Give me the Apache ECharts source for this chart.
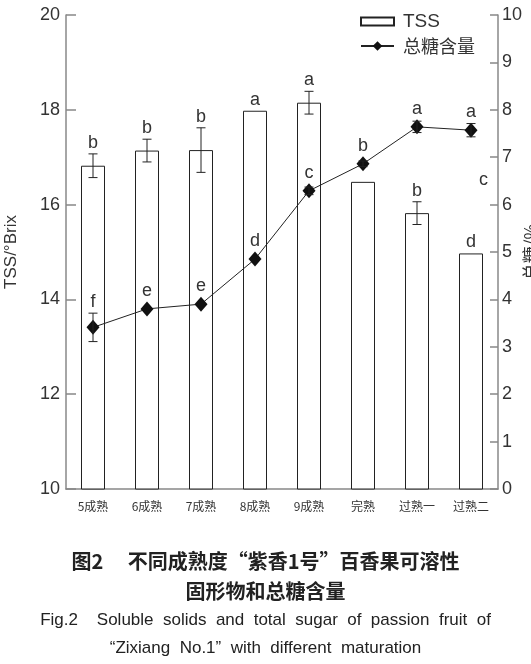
<!DOCTYPE html>
<html lang="zh">
<head>
<meta charset="UTF-8">
<title>TSS与总糖含量</title>
<script src="https://cdn.jsdelivr.net/npm/echarts@6/dist/echarts.min.js"></script>
<style>
  html, body { margin: 0; padding: 0; background: #fff; }
  #box { width: 531px; height: 664px; }
</style>
</head>
<body>
<div id="box"></div>
<script>
    // 成熟度分类
    var categories = ['5成熟', '6成熟', '7成熟', '8成熟', '9成熟', '完熟', '过熟一', '过熟二'];
    // 可溶性固形物 TSS/°Brix
    var tss = [16.82, 17.14, 17.15, 17.98, 18.15, 16.48, 15.82, 14.97];
    var tssErr = [0.25, 0.24, 0.47, 0, 0.24, 0, 0.24, 0];
    var tssLetters = ['b', 'b', 'b', 'a', 'a', '', 'b', 'd'];
    // 总糖含量 %
    var sugar = [3.41, 3.80, 3.90, 4.85, 6.29, 6.86, 7.64, 7.57];
    var sugarErr = [0.30, 0, 0, 0, 0.08, 0.06, 0.12, 0.14];
    var sugarLetters = ['f', 'e', 'e', 'd', 'c', 'b', 'a', 'a'];
    // 坐标轴刻度
    var leftTicks = [10, 12, 14, 16, 18, 20];
    var rightTicks = [0, 1, 2, 3, 4, 5, 6, 7, 8, 9, 10];

    var FONT = '"Liberation Sans", "Noto Sans CJK SC", sans-serif';
    var CJK = '"Noto Sans CJK SC", "Liberation Sans", sans-serif';

    var myChart = echarts.init(document.getElementById('box'));

    // 误差线 + 显著性字母
    function errItem(lift) {
        return function (params, api) {
            var idx = api.value(0), v = api.value(1), e = api.value(2);
            var letter = api.value(3);
            var p = api.coord([idx, v]);
            var hi = api.coord([idx, v + e]);
            var lo = api.coord([idx, v - e]);
            var children = [];
            var top = p[1];
            if (e > 0) {
                var st = { stroke: '#222', lineWidth: 1 };
                children.push({ type: 'line', shape: { x1: p[0], y1: hi[1], x2: p[0], y2: lo[1] }, style: st });
                children.push({ type: 'line', shape: { x1: p[0] - 4.5, y1: hi[1], x2: p[0] + 4.5, y2: hi[1] }, style: st });
                children.push({ type: 'line', shape: { x1: p[0] - 4.5, y1: lo[1], x2: p[0] + 4.5, y2: lo[1] }, style: st });
                top = hi[1];
            }
            top = Math.min(top, p[1] - lift);
            if (letter) {
                children.push({
                    type: 'text',
                    style: {
                        text: letter, x: p[0], y: top - 11,
                        align: 'center', verticalAlign: 'middle',
                        font: '18px ' + FONT, fill: '#333'
                    }
                });
            }
            return { type: 'group', children: children };
        };
    }

    function errData(vals, errs, letters) {
        var out = [];
        for (var i = 0; i < vals.length; i++)
            out.push([i, vals[i], errs[i], letters[i]]);
        return out;
    }

    var EN = '"Liberation Sans Narrow", "Liberation Sans", sans-serif';

    var option = {
        animation: false,
        textStyle: { fontFamily: FONT },
        title: [
            { text: '图2\u3000 不同成熟度“紫香1号”百香果可溶性', left: 'center', top: 546,
              textStyle: { fontFamily: CJK, fontSize: 20, fontWeight: 'bold', color: '#222' } },
            { text: '固形物和总糖含量', left: 'center', top: 576,
              textStyle: { fontFamily: CJK, fontSize: 20, fontWeight: 'bold', color: '#222' } },
            { text: 'Fig.2    Soluble  solids  and  total  sugar  of  passion  fruit  of', left: 'center', top: 607,
              textStyle: { fontFamily: EN, fontSize: 17, fontWeight: 'normal', color: '#222' } },
            { text: '“Zixiang  No.1”  with  different  maturation', left: 'center', top: 635,
              textStyle: { fontFamily: EN, fontSize: 17, fontWeight: 'normal', color: '#222' } }
        ],
        legend: [
            {
                left: 355, top: 7,
                itemWidth: 33, itemHeight: 8,
                icon: 'rect',
                textStyle: { fontFamily: FONT, fontSize: 19, color: '#333', padding: [0, 0, 0, 4] },
                data: ['TSS']
            },
            {
                left: 355, top: 32,
                itemWidth: 33, itemHeight: 12,
                textStyle: { fontFamily: CJK, fontSize: 18, color: '#333', padding: [0, 0, 0, 4] },
                data: ['总糖含量']
            }
        ],
        grid: { left: 66, right: 33, top: 15, bottom: 175, outerBoundsMode: 'none', containLabel: false },
        xAxis: {
            type: 'category',
            data: categories,
            axisLine: { lineStyle: { color: '#888', width: 1.5 } },
            axisTick: { inside: true, length: 6, lineStyle: { color: '#888', width: 1.5 } },
            axisLabel: { fontFamily: CJK, fontSize: 12, color: '#333', margin: 11 }
        },
        yAxis: [
            {
                type: 'value', min: leftTicks[0], max: leftTicks[leftTicks.length - 1], interval: 2,
                name: 'TSS/°Brix', nameLocation: 'middle', nameGap: 46,
                nameTextStyle: { fontSize: 17, color: '#333' },
                axisLine: { show: true, lineStyle: { color: '#888', width: 1.5 } },
                axisTick: { show: true, inside: true, length: 10, lineStyle: { color: '#888', width: 1.5 } },
                axisLabel: { fontSize: 18, color: '#333', margin: 6 },
                splitLine: { show: false }
            },
            {
                type: 'value', min: rightTicks[0], max: rightTicks[rightTicks.length - 1], interval: 1,
                position: 'right',
                name: '总糖/%', nameLocation: 'middle', nameGap: 24, nameRotate: 90,
                nameMoveOverlap: false,
                nameTextStyle: { fontFamily: CJK, fontSize: 17, color: '#333' },
                axisLine: { show: true, lineStyle: { color: '#888', width: 1.5 } },
                axisTick: { show: true, inside: true, length: 8, lineStyle: { color: '#888', width: 1.5 } },
                axisLabel: { fontSize: 18, color: '#333', margin: 4 },
                splitLine: { show: false }
            }
        ],
        graphic: [
            // 图中右侧孤立的字母 c
            { type: 'text', left: 479, top: 171, style: { text: 'c', font: '18px ' + FONT, fill: '#333' } }
        ],
        series: [
            {
                name: 'TSS',
                type: 'bar',
                yAxisIndex: 0,
                barWidth: 24,
                data: tss,
                itemStyle: { color: '#fff', borderColor: '#222', borderWidth: 1 }
            },
            {
                name: '总糖含量',
                type: 'line',
                yAxisIndex: 1,
                data: sugar,
                symbol: 'diamond',
                symbolSize: [13, 15],
                itemStyle: { color: '#111' },
                lineStyle: { color: '#222', width: 1 }
            },
            {
                type: 'custom',
                yAxisIndex: 0,
                renderItem: errItem(0),
                data: errData(tss, tssErr, tssLetters),
                z: 5
            },
            {
                type: 'custom',
                yAxisIndex: 1,
                renderItem: errItem(7),
                data: errData(sugar, sugarErr, sugarLetters),
                z: 5
            }
        ]
    };
    myChart.setOption(option);
</script>
</body>
</html>
